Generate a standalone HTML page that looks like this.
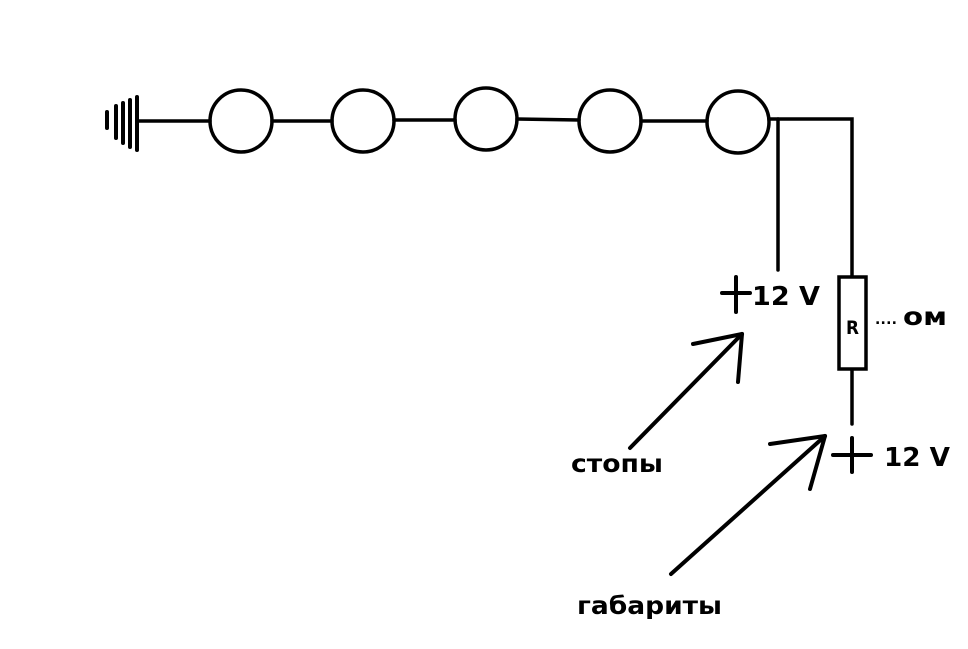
<!DOCTYPE html>
<html><head><meta charset="utf-8"><style>
html,body{margin:0;padding:0;background:#fff;}
svg{display:block;}
text{font-family:"DejaVu Sans","Liberation Sans",sans-serif;font-weight:bold;fill:#000;}
</style></head><body>
<svg width="968" height="649" viewBox="0 0 968 649" xmlns="http://www.w3.org/2000/svg">
<g stroke="#000" fill="none" stroke-linecap="round">
<line x1="137" y1="97" x2="137" y2="150" stroke-width="4"/>
<line x1="130" y1="100" x2="130" y2="147" stroke-width="4"/>
<line x1="123" y1="103" x2="123" y2="143" stroke-width="4"/>
<line x1="116" y1="106" x2="116" y2="138" stroke-width="4"/>
<line x1="107" y1="112" x2="107" y2="128" stroke-width="4"/>
<line x1="137" y1="121" x2="210" y2="121" stroke-width="3.5"/>
<line x1="272" y1="121" x2="332" y2="121" stroke-width="3.5"/>
<line x1="394" y1="120" x2="455" y2="120" stroke-width="3.5"/>
<line x1="517" y1="119" x2="579" y2="120" stroke-width="3.5"/>
<line x1="641" y1="121" x2="707" y2="121" stroke-width="3.5"/>
<polyline points="769,119 852,119 852,276" stroke-width="3.5" stroke-linecap="butt"/>
<line x1="778" y1="119" x2="778" y2="270" stroke-width="3.5"/>
<circle cx="241" cy="121" r="31" stroke-width="3.5"/>
<circle cx="363" cy="121" r="31" stroke-width="3.5"/>
<circle cx="486" cy="119" r="31" stroke-width="3.5"/>
<circle cx="610" cy="121" r="31" stroke-width="3.5"/>
<circle cx="738" cy="122" r="31" stroke-width="3.5"/>
<rect x="839" y="277" width="27" height="92" stroke-width="3.5"/>
<line x1="852" y1="370" x2="852" y2="424" stroke-width="3.5"/>
<line x1="722" y1="293" x2="750" y2="293" stroke-width="4"/>
<line x1="736" y1="277" x2="736" y2="312" stroke-width="4"/>
<line x1="833" y1="455" x2="871" y2="455" stroke-width="4"/>
<line x1="852" y1="438" x2="852" y2="472" stroke-width="4"/>
<line x1="630" y1="448" x2="742" y2="334" stroke-width="4"/>
<line x1="693" y1="344" x2="742" y2="334" stroke-width="4"/>
<line x1="738" y1="382" x2="742" y2="334" stroke-width="4"/>
<line x1="671" y1="574" x2="825" y2="436" stroke-width="4"/>
<line x1="770" y1="444" x2="825" y2="436" stroke-width="4"/>
<line x1="810" y1="489" x2="825" y2="436" stroke-width="4"/>
</g>
<text x="846" y="334" font-size="19" textLength="13" lengthAdjust="spacingAndGlyphs">R</text>
<text x="875" y="324" font-size="14" textLength="22" lengthAdjust="spacing">....</text>
<text x="903" y="325" font-size="25" textLength="44" lengthAdjust="spacingAndGlyphs">ом</text>
<text x="752" y="305" font-size="26" textLength="68" lengthAdjust="spacingAndGlyphs">12 V</text>
<text x="884" y="466" font-size="26" textLength="66" lengthAdjust="spacingAndGlyphs">12 V</text>
<text x="571" y="472" font-size="25" textLength="92" lengthAdjust="spacingAndGlyphs">стопы</text>
<text x="577" y="614" font-size="25" textLength="145" lengthAdjust="spacingAndGlyphs">габариты</text>
</svg>
</body></html>
